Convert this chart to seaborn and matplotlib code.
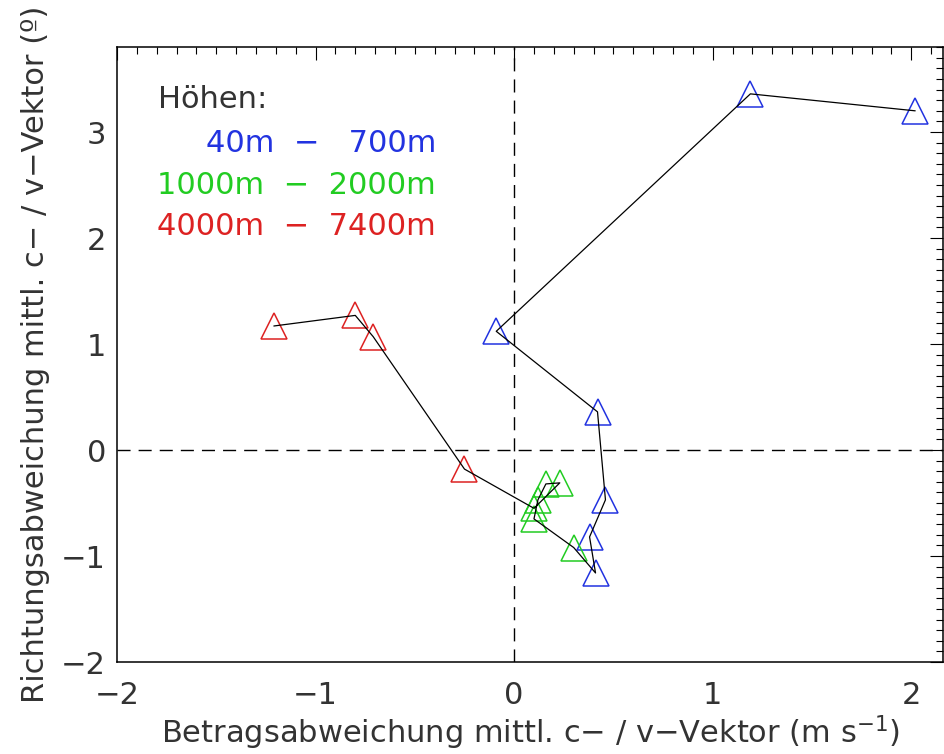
import matplotlib
matplotlib.use("Agg")
import matplotlib.pyplot as plt
from matplotlib.ticker import MultipleLocator
import numpy as np
import pandas as pd
import seaborn as sns

# Height bands and their mean deviations (magnitude in m/s, direction in degrees)
band_names = ["40m  \u2212   700m", "1000m  \u2212  2000m", "4000m  \u2212  7400m"]
band_colors = ["#2233e0", "#22cc22", "#dd2222"]

low_x = [2.02, 1.19, -0.09, 0.42, 0.46, 0.38, 0.41]
low_y = [3.20, 3.36, 1.12, 0.36, -0.47, -0.82, -1.16]

mid_x = [0.30, 0.10, 0.12, 0.16, 0.23, 0.10]
mid_y = [-0.92, -0.65, -0.47, -0.32, -0.31, -0.55]

high_x = [-0.25, -0.71, -0.80, -1.21]
high_y = [-0.18, 1.07, 1.27, 1.17]

xs = [low_x, mid_x, high_x]
ys = [low_y, mid_y, high_y]

frames = []
for name, bx, by in zip(band_names, xs, ys):
    frames.append(pd.DataFrame({"x": bx, "y": by, "band": name}))
df = pd.concat(frames, ignore_index=True)

sns.set_theme(style="white")
plt.rcParams["font.family"] = ["DejaVu Sans"]
plt.rcParams["axes.unicode_minus"] = True

FS = 22
TXT = "#333333"

fig = plt.figure(figsize=(9.44, 7.54), dpi=100)
ax = fig.add_axes([117 / 944, 1 - 662 / 754, (943 - 117) / 944, (662 - 46.7) / 754])

# reference lines through the origin
ax.axhline(0, color="black", lw=1.0, dashes=(9.4, 5.8), zorder=1)
ax.axvline(0, color="black", lw=1.0, dashes=(9.4, 5.8), zorder=1)

# markers per height band
for name, col in zip(band_names, band_colors):
    sub = df[df["band"] == name]
    sns.lineplot(data=sub, x="x", y="y", sort=False, estimator=None, ax=ax,
                 linestyle="", marker="^", markersize=19, color=col,
                 markerfacecolor="none", markeredgecolor=col,
                 markeredgewidth=1.1, legend=False, zorder=2)

# profile connecting all heights
sns.lineplot(data=df, x="x", y="y", sort=False, estimator=None, ax=ax,
             color="black", lw=0.9, legend=False, zorder=3)

ax.set_xlim(-2, 2.16)
ax.set_ylim(-2, 3.805)
ax.xaxis.set_major_locator(MultipleLocator(1))
ax.xaxis.set_minor_locator(MultipleLocator(0.1))
ax.yaxis.set_major_locator(MultipleLocator(1))
ax.yaxis.set_minor_locator(MultipleLocator(0.1))
ax.tick_params(which="both", direction="in", top=True, right=True,
               color="black", width=0.8)
ax.tick_params(which="major", length=9.4, labelsize=FS, labelcolor=TXT)
ax.tick_params(axis="x", which="major", pad=14)
ax.tick_params(axis="y", which="major", pad=8)
ax.tick_params(which="minor", length=4.8)
for sp in ax.spines.values():
    sp.set_color("black")
    sp.set_linewidth(1.1)

ax.set_xlabel("Betragsabweichung mittl. c\u2212 / v\u2212Vektor (m s$^{-1}$)",
              fontsize=FS, color=TXT, labelpad=2)
ax.set_ylabel("Richtungsabweichung mittl. c\u2212 / v\u2212Vektor (\u00ba)",
              fontsize=FS, color=TXT, labelpad=8)

# header and band labels, positioned in pixels from the top-left corner
labels = [("H\u00f6hen:", 158, 100, TXT, "left")]
for i, (name, col) in enumerate(zip(band_names, band_colors)):
    labels.append((name, 436, 143.3 + i * 41.7, col, "right"))
for s, px, py, col, ha in labels:
    fig.text(px / 944, 1 - py / 754, s, fontsize=FS, color=col,
             va="center", ha=ha)

fig.savefig("out.png", dpi=100)
